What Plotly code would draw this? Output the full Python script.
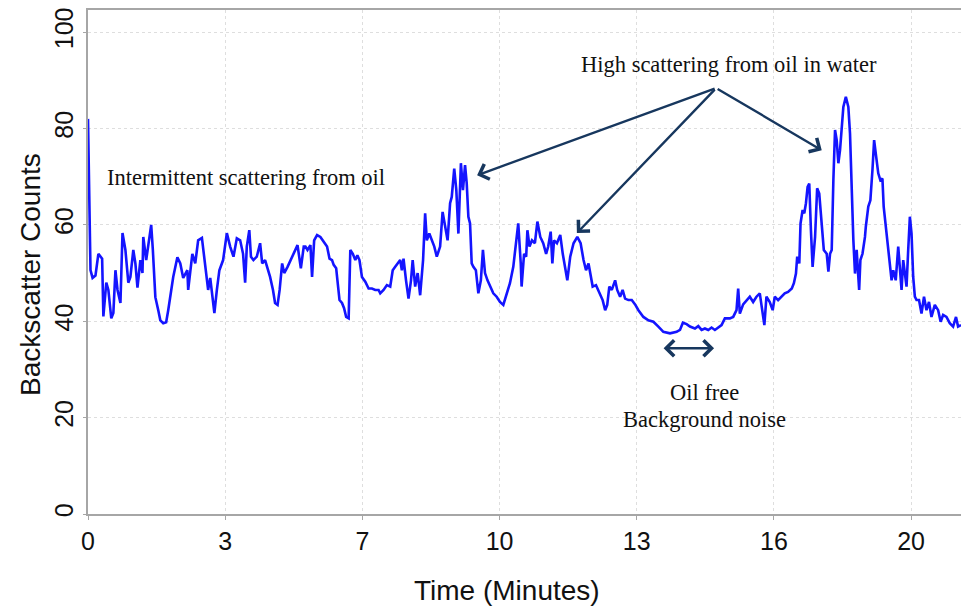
import plotly.graph_objects as go

# Backscatter record: time in minutes and detector counts
time_min = [
    0, 0.02, 0.03, 0.06, 0.11, 0.18, 0.25, 0.34, 0.37, 0.44, 0.49, 0.56, 0.61, 0.66, 0.71, 0.78,
    0.83, 0.90, 0.97, 1.02, 1.09, 1.14, 1.19, 1.26, 1.31, 1.33, 1.40, 1.45, 1.52, 1.56, 1.62, 1.69,
    1.74, 1.81, 1.88, 1.93, 1.98, 2.05, 2.15, 2.22, 2.29, 2.39, 2.41, 2.51, 2.58, 2.65, 2.74, 2.82,
    2.89, 2.94, 2.98, 3.04, 3.10, 3.16, 3.22, 3.25, 3.34, 3.42, 3.50, 3.58, 3.66, 3.73, 3.78, 3.82,
    3.88, 3.92, 3.98, 4.06, 4.14, 4.19, 4.26, 4.31, 4.38, 4.45, 4.50, 4.56, 4.61, 4.67, 4.72, 4.80,
    4.87, 4.94, 5.04, 5.12, 5.19, 5.23, 5.28, 5.35, 5.39, 5.44, 5.51, 5.59, 5.67, 5.75, 5.81, 5.87,
    5.91, 5.97, 6.00, 6.05, 6.11, 6.16, 6.21, 6.27, 6.31, 6.37, 6.43, 6.48, 6.53, 6.59, 6.67, 6.75,
    6.83, 6.91, 6.99, 7.03, 7.11, 7.19, 7.27, 7.33, 7.39, 7.44, 7.51, 7.55, 7.59, 7.65, 7.71, 7.77,
    7.81, 7.87, 7.93, 7.99, 8.06, 8.11, 8.15, 8.21, 8.27, 8.33, 8.39, 8.47, 8.53, 8.59, 8.65, 8.71,
    8.75, 8.81, 8.86, 8.91, 8.97, 9.02, 9.07, 9.11, 9.15, 9.19, 9.23, 9.27, 9.33, 9.39, 9.45, 9.50,
    9.55, 9.61, 9.67, 9.75, 9.83, 9.91, 9.99, 10.07, 10.15, 10.23, 10.30, 10.35, 10.41, 10.43, 10.49,
    10.54, 10.57, 10.62, 10.68, 10.75, 10.81, 10.88, 10.95, 11.02, 11.07, 11.13, 11.17, 11.21, 11.28,
    11.36, 11.42, 11.48, 11.53, 11.60, 11.68, 11.77, 11.85, 11.92, 11.98, 12.04, 12.09, 12.14, 12.22,
    12.30, 12.38, 12.44, 12.49, 12.54, 12.60, 12.68, 12.73, 12.80, 12.86, 12.92, 13.00, 13.08, 13.16,
    13.24, 13.36, 13.48, 13.60, 13.72, 13.84, 14.00, 14.16, 14.24, 14.31, 14.40, 14.48, 14.60, 14.68,
    14.76, 14.84, 14.92, 15.00, 15.08, 15.16, 15.24, 15.32, 15.44, 15.52, 15.60, 15.64, 15.68, 15.76,
    15.84, 15.92, 16.00, 16.08, 16.16, 16.23, 16.27, 16.32, 16.40, 16.47, 16.52, 16.60, 16.69, 16.76,
    16.84, 16.93, 16.98, 17.03, 17.06, 17.11, 17.14, 17.19, 17.23, 17.27, 17.31, 17.35, 17.39, 17.43,
    17.49, 17.54, 17.59, 17.65, 17.70, 17.77, 17.81, 17.85, 17.89, 17.93, 17.97, 18.01, 18.05, 18.09,
    18.13, 18.17, 18.23, 18.29, 18.33, 18.37, 18.41, 18.45, 18.49, 18.53, 18.55, 18.58, 18.63, 18.69,
    18.71, 18.77, 18.82, 18.87, 18.91, 18.95, 19.01, 19.06, 19.11, 19.14, 19.19, 19.22, 19.27, 19.33,
    19.37, 19.43, 19.49, 19.53, 19.57, 19.61, 19.65, 19.69, 19.73, 19.77, 19.81, 19.85, 19.89, 19.93,
    19.99, 20.05, 20.11, 20.17, 20.23, 20.29, 20.37, 20.45, 20.51, 20.57, 20.65, 20.73, 20.81, 20.88,
    20.93, 21.00,
]

counts = [
    82, 70, 58, 50.6, 49, 49.5, 54, 53, 41, 48, 46.5, 40.6, 41.7, 50.6, 46.5, 43.8,
    58.3, 54.8, 48, 49.2, 54.8, 52, 47, 52.7, 50, 57.5, 52.7, 55.4, 60, 54.8, 45, 42.3,
    40.2, 39.6, 39.8, 42.3, 45, 49.2, 53.3, 52, 49, 50.6, 46.5, 54, 52, 56.8, 57.3, 51.3,
    46.5, 49, 45.8, 41.7, 46.5, 50.6, 52, 52.7, 58.3, 55.5, 53.4, 57.2, 56.8, 54, 48, 55.5,
    58.9, 53.4, 52.7, 53.4, 56.2, 52, 52.7, 51.3, 49.2, 46.5, 43.8, 43.4, 46.5, 52, 50, 51.3,
    52.7, 54, 55.8, 51, 55.5, 55.5, 54.8, 55.8, 49.2, 56.8, 57.9, 57.5, 56.5, 55.5, 53, 52.7,
    51.7, 51, 48.5, 44.4, 43.8, 42.7, 40.9, 40.6, 54.8, 54, 52.7, 53.7, 52.7, 49.2, 48.2, 46.8,
    46.8, 46.5, 46.5, 45.8, 46.5, 47.5, 47.2, 50.6, 51.3, 52, 52.7, 50.6, 53, 48.5, 44.7, 48.5,
    52.7, 47.2, 50, 45.4, 52.7, 62.4, 56.8, 58.2, 56.8, 55.5, 53.4, 55.5, 62.7, 59.6, 56.8, 64.5,
    65.8, 71.7, 67.2, 58.2, 72.8, 67.2, 72.4, 68.6, 61.7, 60.3, 52, 51.3, 50.6, 45.8, 48.5, 54.8,
    50, 48.5, 47.2, 45.8, 45.1, 44, 43.4, 45.8, 47.9, 51.3, 56.2, 60.3, 52, 47.2, 54,
    53.4, 58.9, 55.5, 56.8, 56.2, 60.7, 57.5, 56.2, 54, 55.5, 58.6, 52, 56.8, 56.2,
    57.9, 54, 50.6, 48.5, 53.4, 56.2, 57.5, 56.2, 52.7, 50.6, 52, 49.6, 47.2, 47.5,
    46.1, 44.4, 42.3, 43.4, 47.2, 46.5, 48.5, 46.5, 45.1, 46.5, 44.7, 44.4, 44.4, 43.5,
    42.3, 40.9, 40.2, 39.9, 38.9, 37.8, 37.5, 37.8, 38.2, 39.7, 39.4, 38.9, 38.5, 39,
    38.2, 38.5, 38.2, 38.7, 38.2, 38.7, 39.2, 40.6, 40.6, 40.9, 42.3, 46.8, 41.6, 43.5,
    44.4, 45.1, 44, 45.1, 45.8, 41.6, 39.2, 45.1, 44, 42.3, 45.1, 44.4, 45.1, 45.8,
    46.1, 46.8, 47.9, 49.9, 53.4, 52, 60.3, 63.1, 62.4, 64.5, 67.9, 68.6, 58.9, 51.3,
    57.5, 67.6, 66.5, 61, 54.8, 54, 50.3, 54, 54.8, 69.3, 79.7, 77.6, 72.8, 75.5,
    81, 84.5, 86.6, 84.5, 79, 67, 57, 49.9, 54.8, 49.2, 46.5, 52.7, 54, 57.5,
    59.6, 63.8, 65.1, 71.4, 77.6, 74.8, 70.7, 69.3, 69.6, 63.8, 59.6, 57.5, 53.4, 48.5,
    50.6, 48.5, 55.5, 49.9, 46.5, 52.7, 49.2, 47.2, 54.8, 61.7, 58.2, 49.2, 45.1, 44.4,
    44.4, 41.6, 45.1, 42.3, 44, 40.9, 43.4, 42.3, 39.9, 41.3, 40.9, 39.6, 38.9, 40.9,
    38.9, 39.2,
]

# Axis ticks (minutes)
tick_vals = [0, 3.3, 6.6, 9.9, 13.2, 16.5, 19.8]
tick_text = ["0", "3", "7", "10", "13", "16", "20"]
y_ticks = [0, 20, 40, 60, 80, 100]

ARROW = "#17375e"
AXIS = "#a6a6a6"
GRID = "#dedede"
SANS = "Liberation Sans, Arial, sans-serif"
SERIF = "Liberation Serif, Times New Roman, serif"

fig = go.Figure()
fig.add_trace(go.Scatter(
    x=time_min, y=counts, mode="lines",
    line=dict(color="#1414ff", width=2.6),
    hoverinfo="skip", showlegend=False,
))

# Arrows from the "High scattering" label to the three oil peaks
tail_x, tail_y = 15.11, 88.4
for hx, hy in [(9.36, 70.3), (11.76, 58.3), (17.65, 75.5)]:
    fig.add_annotation(
        x=hx, y=hy, ax=tail_x, ay=tail_y, xref="x", yref="y", axref="x", ayref="y",
        text="", showarrow=True, arrowhead=4, arrowsize=1.3, arrowwidth=2.4,
        arrowcolor=ARROW, standoff=0,
    )

# Double-headed arrow marking the oil-free interval
fig.add_annotation(
    x=15.06, y=34.4, ax=13.81, ay=34.4, xref="x", yref="y", axref="x", ayref="y",
    text="", showarrow=True, arrowhead=4, startarrowhead=4, arrowside="end+start",
    arrowsize=1.3, startarrowsize=1.3, arrowwidth=2.4, arrowcolor=ARROW,
    standoff=0, startstandoff=0,
)

labels = [
    ("Intermittent scattering from oil", 0.40, 69.9, "left"),
    ("High scattering from oil in water", 15.43, 93.2, "center"),
    ("Oil free", 14.84, 25.3, "center"),
    ("Background noise", 14.84, 19.7, "center"),
]
for txt, lx, ly, anchor in labels:
    fig.add_annotation(
        x=lx, y=ly, xref="x", yref="y", text=txt, showarrow=False,
        xanchor=anchor, yanchor="middle",
        font=dict(family=SERIF, size=22.5, color="#111111"),
    )

# Axis titles
fig.add_annotation(
    x=0.48, y=-0.152, xref="paper", yref="paper", text="Time (Minutes)",
    showarrow=False, xanchor="center", yanchor="middle",
    font=dict(family=SANS, size=28, color="#111111"),
)
fig.add_annotation(
    x=-0.066, y=0.475, xref="paper", yref="paper", text="Backscatter Counts",
    showarrow=False, textangle=-90, xanchor="center", yanchor="middle",
    font=dict(family=SANS, size=28, color="#111111"),
)

fig.update_layout(
    width=961, height=610,
    margin=dict(l=88, r=0, t=10, b=96),
    paper_bgcolor="white", plot_bgcolor="white",
    font=dict(family=SANS, color="#111111"),
)

fig.update_xaxes(
    range=[0, 21.0], tickvals=tick_vals, ticktext=tick_text,
    tickfont=dict(size=25), ticks="outside", ticklen=4, tickcolor=AXIS,
    showline=True, linecolor=AXIS, linewidth=2, mirror=True,
    showgrid=True, gridcolor=GRID, griddash="dot", gridwidth=1,
    zeroline=False,
)
fig.update_yaxes(
    range=[0, 104.6], tickvals=y_ticks, tickangle=-90,
    tickfont=dict(size=25), ticks="outside", ticklen=3, tickcolor=AXIS,
    showline=True, linecolor=AXIS, linewidth=2,
    showgrid=True, gridcolor=GRID, griddash="dot", gridwidth=1,
    zeroline=False,
)

fig.write_html("out.html")
